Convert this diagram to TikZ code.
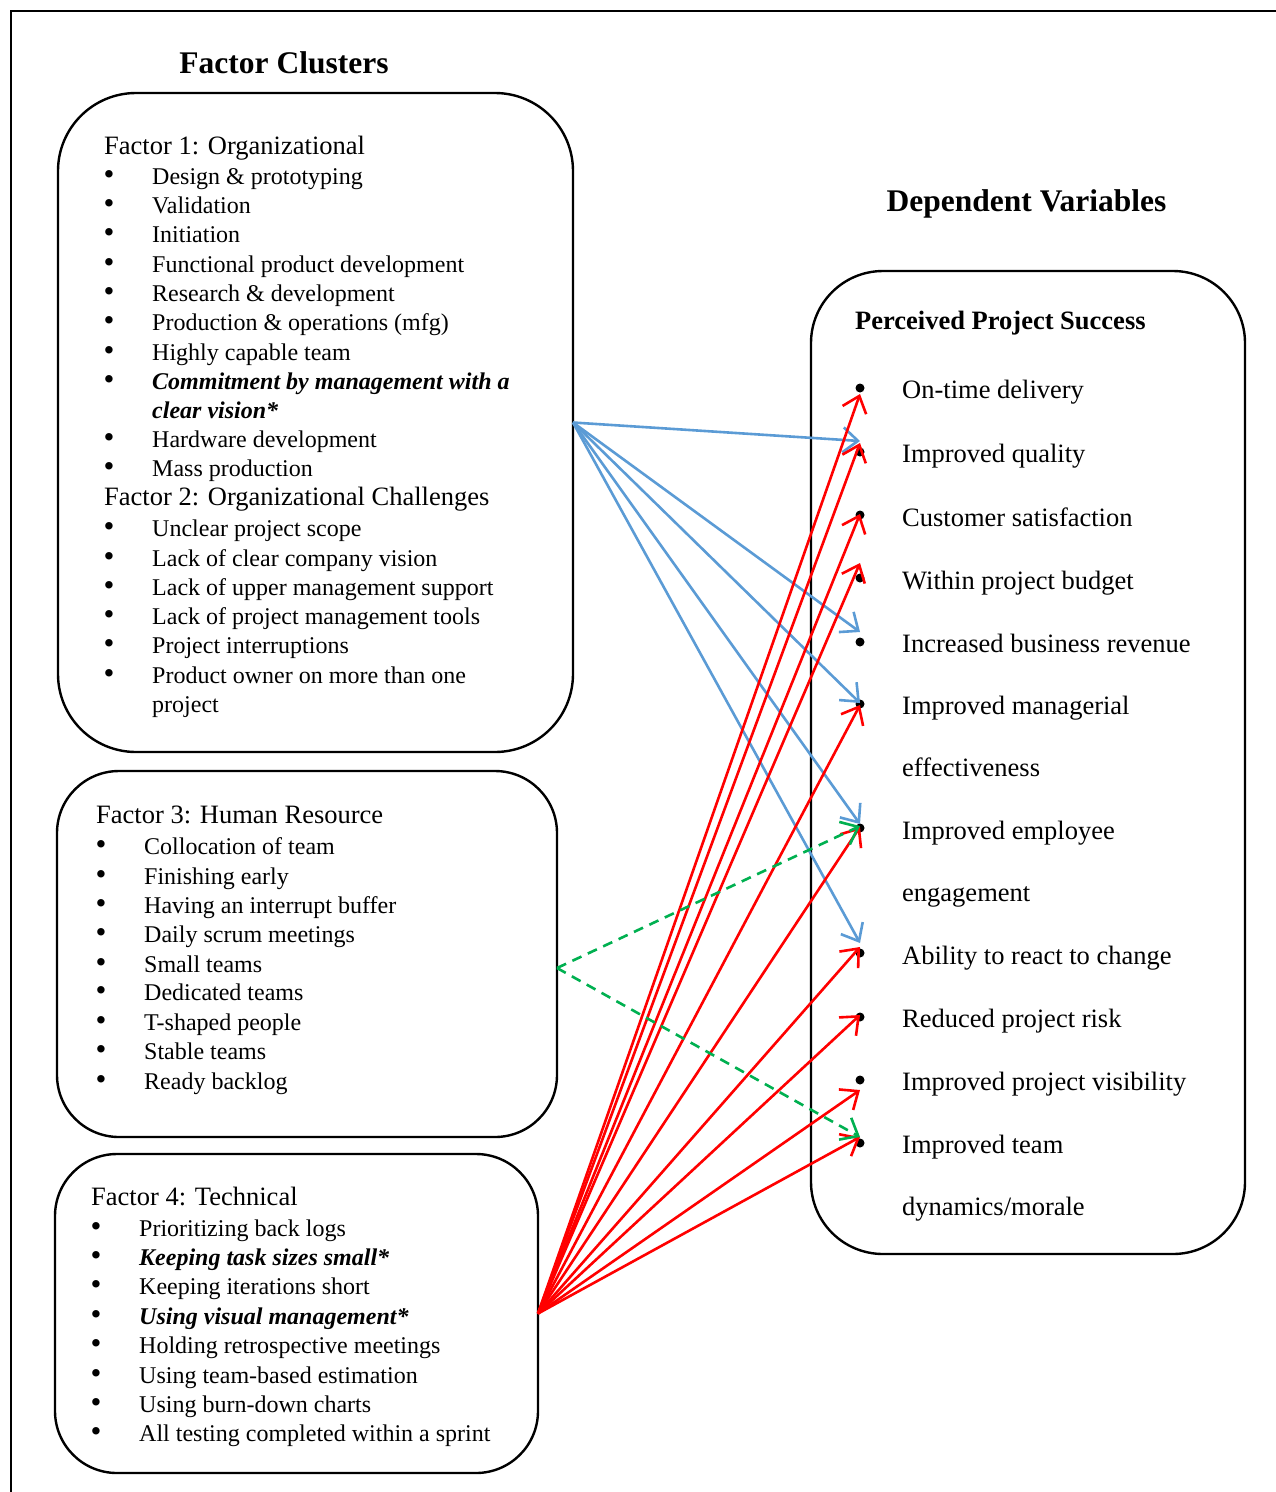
\documentclass[tikz,border=0pt]{standalone}
\usepackage{fontspec}
\setmainfont{Liberation Serif}
\usetikzlibrary{arrows.meta}
\definecolor{ablue}{RGB}{91,155,213}
\definecolor{agreen}{RGB}{0,176,80}
\definecolor{ared}{RGB}{255,0,0}
\tikzset{
  item/.style={anchor=base west, inner sep=0pt, font=\fontsize{24}{29}\selectfont},
  bul/.style={anchor=base west, inner sep=0pt, font=\fontsize{31}{29}\selectfont},
  head/.style={anchor=base west, inner sep=0pt, font=\fontsize{26.5}{32}\selectfont},
  ttl/.style={anchor=base, inner sep=0pt, font=\fontsize{31.5}{38}\selectfont\bfseries},
  cluster/.style={draw, line width=2.4pt, outer sep=0pt, inner sep=0pt},
  dotmark/.style={circle, fill=black, inner sep=0pt, minimum size=9pt},
  tipped/.style={-{Straight Barb[length=15pt,width=25pt]}, line width=2.6pt},
  barrow/.style={tipped, draw=ablue},
  rarrow/.style={tipped, draw=ared},
  garrow/.style={tipped, draw=agreen, dash pattern=on 10pt off 7pt},
}
\begin{document}
\begin{tikzpicture}[x=1pt,y=-1pt]
\useasboundingbox (0,0) rectangle (1276,1492);
\draw[line width=1.8pt] (11,1492) -- (11,11) -- (1276,11);

% titles
\node[ttl] (tFC) at (284,73) {Factor Clusters};
\node[ttl] (tDV) at (1026.5,211) {Dependent Variables};

% cluster boxes
\node[cluster, rounded corners=78pt, minimum width=515pt, minimum height=659pt] (box1) at (315.5,422.5) {};
\node[cluster, rounded corners=62pt, minimum width=500pt, minimum height=366pt] (box2) at (307,954) {};
\node[cluster, rounded corners=62pt, minimum width=483pt, minimum height=319pt] (box3) at (296.5,1313.5) {};
\node[cluster, rounded corners=72pt, minimum width=434pt, minimum height=983pt] (box4) at (1028,762.5) {};

% box 1
\node[head] (f1) at (104,154.5) {Factor 1: Organizational};
\foreach \t/\yy [count=\i] in {Design \& prototyping/184, Validation/213, Initiation/242.5, Functional product development/272, Research \& development/301, Production \& operations (mfg)/330.5, Highly capable team/360}
  {\node[item] (a\i) at (152,\yy) {\t}; \node[bul] (ab\i) at (103.5,\yy) {•};}
\node[item, font=\fontsize{24}{29}\selectfont\bfseries\itshape] (a8) at (152,389) {Commitment by management with a};
\node[bul] (ab8) at (103.5,389) {•};
\node[item, font=\fontsize{24}{29}\selectfont\bfseries\itshape] (a8b) at (152,418) {clear vision*};
\node[item] (a9) at (152,447) {Hardware development};
\node[bul] (ab9) at (103.5,447) {•};
\node[item] (a10) at (152,476) {Mass production};
\node[bul] (ab10) at (103.5,476) {•};
\node[head] (f2) at (104,505.5) {Factor 2: Organizational Challenges};
\foreach \t/\yy [count=\i] in {Unclear project scope/536.5, Lack of clear company vision/566, Lack of upper management support/595, Lack of project management tools/624.5, Project interruptions/653.5, Product owner on more than one/683}
  {\node[item] (c\i) at (152,\yy) {\t}; \node[bul] (cb\i) at (103.5,\yy) {•};}
\node[item] (c6b) at (152,712) {project};

% box 2
\node[head] (f3) at (96,823.5) {Factor 3: Human Resource};
\foreach \t/\yy [count=\i] in {Collocation of team/854, Finishing early/884, Having an interrupt buffer/913, Daily scrum meetings/942, Small teams/972, Dedicated teams/1000.5, T-shaped people/1030, Stable teams/1059, Ready backlog/1089}
  {\node[item] (h\i) at (144,\yy) {\t}; \node[bul] (hb\i) at (95.5,\yy) {•};}

% box 3
\node[head] (f4) at (91,1205.5) {Factor 4: Technical};
\foreach \t/\yy [count=\i] in {Prioritizing back logs/1236, Keeping iterations short/1294.5, Holding retrospective meetings/1353.5, Using team-based estimation/1383, Using burn-down charts/1412, All testing completed within a sprint/1441}
  {\node[item] (k\i) at (139,\yy) {\t};}
\node[item, font=\fontsize{24}{29}\selectfont\bfseries\itshape] (kx1) at (139,1265) {Keeping task sizes small*};
\node[item, font=\fontsize{24}{29}\selectfont\bfseries\itshape] (kx2) at (139,1324) {Using visual management*};
\foreach \yy [count=\i] in {1236,1265,1294.5,1324,1353.5,1383,1412,1441}
  {\node[bul] (kb\i) at (90.5,\yy) {•};}

% box 4
\node[head, font=\fontsize{26.5}{32}\selectfont\bfseries] (pps) at (855,329) {Perceived Project Success};
\foreach \t/\yy [count=\i] in {On-time delivery/398, Improved quality/462, Customer satisfaction/526, Within project budget/589, Increased business revenue/652, Improved managerial/714, effectiveness/776, Improved employee/839, engagement/901, Ability to react to change/964, Reduced project risk/1027, Improved project visibility/1090, Improved team/1153}
  {\node[head] (r\i) at (902,\yy) {\t};}
\node[head] (r14) at (902,1215) {dynamics/morale};
\foreach \yy [count=\i] in {388,452,515,578,642,704,828,953,1017,1080,1143}
  {\node[dotmark] (d\i) at (860,\yy) {};}

% sources
\coordinate (s1) at (box1.east);
\coordinate (s3) at ([yshift=-14pt]box2.east);
\coordinate (s4) at (box3.east);

% blue arrows
\draw[barrow] (s1) -- ([yshift=11pt]d2.center);
\draw[barrow] (s1) -- ([yshift=10pt]d5.center);
\draw[barrow] (s1) -- ([yshift=1pt]d6.center);
\draw[barrow] (s1) -- ([yshift=4pt]d7.center);
\draw[barrow] (s1) -- ([yshift=10pt]d8.center);

% red arrows
\draw[rarrow] (s4) -- ([yshift=-6pt]d1.center);
\draw[rarrow] (s4) -- ([yshift=9pt]d2.center);
\draw[rarrow] (s4) -- ([yshift=1pt]d3.center);
\draw[rarrow] (s4) -- ([yshift=15pt]d4.center);
\draw[rarrow] (s4) -- ([yshift=-1pt]d6.center);
\draw[rarrow] (s4) -- ([yshift=1pt]d7.center);
\draw[rarrow] (s4) -- ([yshift=6pt]d8.center);
\draw[rarrow] (s4) -- ([yshift=2pt]d9.center);
\draw[rarrow] (s4) -- ([yshift=-10pt]d10.center);
\draw[rarrow] (s4) -- ([yshift=6pt]d11.center);

% green dashed arrows
\draw[garrow] (s3) -- ([yshift=2pt]d7.center);
\draw[garrow] (s3) -- ([yshift=6pt]d11.center);
\end{tikzpicture}
\end{document}
